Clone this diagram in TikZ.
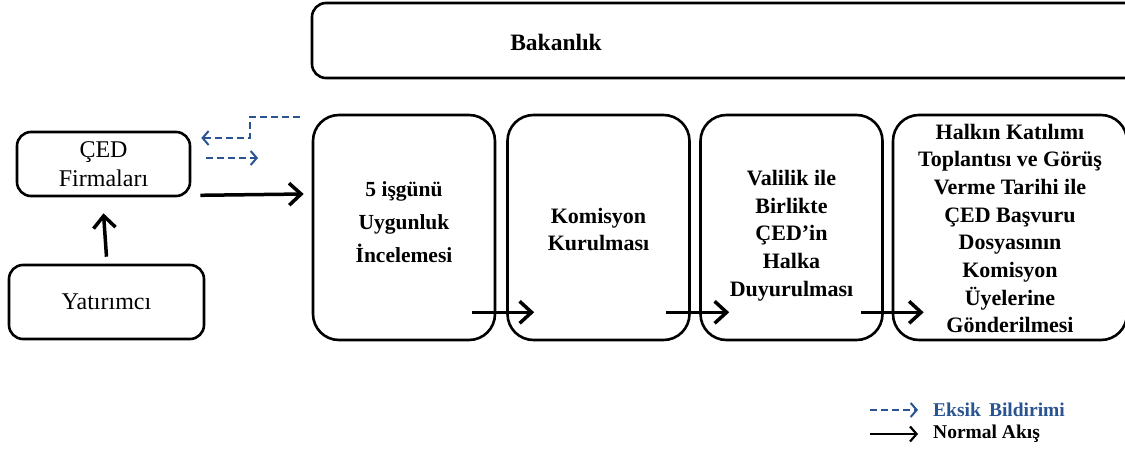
\documentclass[tikz,border=0pt]{standalone}
\usepackage{fontspec}
\setmainfont{Liberation Serif}
\usetikzlibrary{arrows.meta}
\definecolor{eksik}{RGB}{41,84,145}
\begin{document}
\begin{tikzpicture}[x=1pt,y=-1pt,
 box/.style={draw, line width=2.6pt, rounded corners=14pt, align=center, inner sep=0pt},
 smallbox/.style={box, font=\fontsize{24}{29}\selectfont},
 bigbox/.style={box, rounded corners=26pt, minimum width=182pt, minimum height=225pt},
 btext/.style={align=center, inner sep=0pt, font=\bfseries\fontsize{22}{27.7}\selectfont},
 arr/.style={line width=3.5pt, -{Straight Barb[length=12pt,width=22pt]}},
 darr/.style={eksik, line width=2pt, dash pattern=on 7pt off 4pt, -{Straight Barb[length=6pt,width=14pt]}},
 legtxt/.style={anchor=west, font=\bfseries\fontsize{19.5}{22}\selectfont, inner sep=0pt},
]
\useasboundingbox (0,0) rectangle (1125,450);
\clip (0,0) rectangle (1125,450);

% top box
\node[box, minimum width=830pt, minimum height=75pt] (bak) at (727,40.5) {};
\node[font=\bfseries\fontsize{23.5}{27}\selectfont, inner sep=0pt] (baklbl) at (556,42) {Bakanlık};

% left boxes
\node[smallbox, minimum width=173pt, minimum height=64pt] (ced) at (103.5,164) {ÇED\\Firmaları};
\node[smallbox, minimum width=195pt, minimum height=74pt] (yat) at (106.5,302) {Yatırımcı};

% process boxes
\node[bigbox] (b1) at (404,227.5) {};
\node[bigbox] (b2) at (598.5,227.5) {};
\node[bigbox] (b3) at (791.5,227.5) {};
\node[bigbox, minimum width=234pt] (b4) at (1010,227.5) {};
\node[btext, font=\bfseries\fontsize{21.5}{33}\selectfont, yshift=5pt] (t1) at (b1) {5 işgünü\\Uygunluk\\İncelemesi};
\node[btext, yshift=-2pt] (t2) at (b2) {Komisyon\\Kurulması};
\node[btext, yshift=-8pt] (t3) at (b3) {Valilik ile\\Birlikte\\ÇED’in\\Halka\\Duyurulması};
\node[btext, yshift=-1pt] (t4) at (b4) {Halkın Katılımı\\Toplantısı ve Görüş\\Verme Tarihi ile\\ÇED Başvuru\\Dosyasının\\Komisyon\\Üyelerine\\Gönderilmesi};

% normal flow arrows
\draw[arr] ([yshift=7pt]yat.north) -- ([yshift=-16pt]ced.south);
\draw[arr] ([shift={(9pt,2pt)}]ced.south east) -- ([shift={(-8pt,33.5pt)}]b1.west);
\draw[arr] ([shift={(-24pt,29pt)}]b1.south east) -- ([shift={(28pt,29pt)}]b2.south west);
\draw[arr] ([shift={(-25pt,29pt)}]b2.south east) -- ([shift={(30pt,29pt)}]b3.south west);
\draw[arr] ([shift={(-23pt,29pt)}]b3.south east) -- ([shift={(32pt,29pt)}]b4.south west);

% deficiency notices
\coordinate (dstart) at (300,117);
\coordinate (dend) at (258,158);
\draw[darr] (dstart) -- (250,117) -- (250,138) -- ([shift={(10pt,26pt)}]ced.east);
\draw[darr] ([shift={(15pt,6pt)}]ced.east) -- (dend);

% legend
\node[legtxt, text=eksik] (l1) at (933,410) {Eksik\, Bildirimi};
\node[legtxt] (l2) at (933,434) {Normal Akış};
\coordinate (l1s) at (870,410);
\coordinate (l2s) at (870,434);
\draw[darr] (l1s) -- ([xshift=-15pt]l1.west);
\draw[line width=2.2pt, -{Straight Barb[length=6.5pt,width=15pt]}] (l2s) -- ([xshift=-15pt]l2.west);
\end{tikzpicture}
\end{document}
